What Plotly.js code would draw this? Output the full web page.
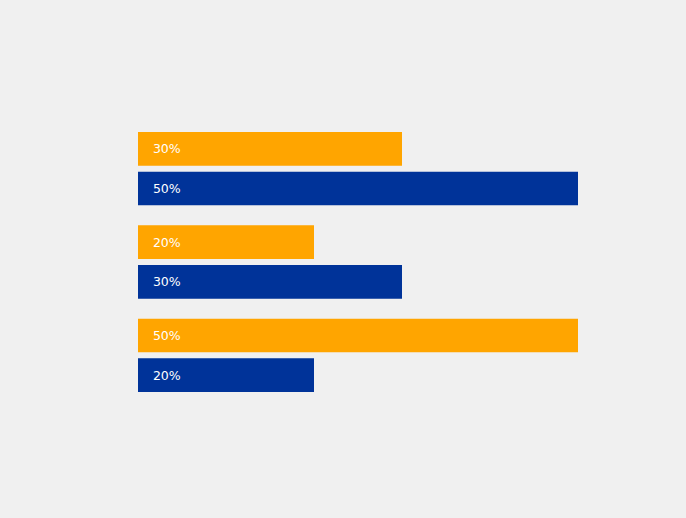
<!DOCTYPE html>
<html>
<head>
<meta charset="utf-8">
<script src="https://cdn.plot.ly/plotly-3.0.1.min.js"></script>
<style>
  html, body { margin: 0; padding: 0; background: #f0f0f0; }
  #chart { width: 686px; height: 518px; }
</style>
</head>
<body>
<div id="chart"></div>
<script>
const categories = ["Category 1", "Category 2", "Category 3"];
const seriesNames = ["Series 1", "Series 2"];
const orangeValues = [30, 20, 50];
const blueValues = [50, 30, 20];
const labelPrefix = "\u00a0\u00a0\u00a0";

function labels(vals) { return vals.map(v => labelPrefix + v + "%"); }

const common = {
  type: "bar",
  orientation: "h",
  y: categories,
  textposition: "inside",
  insidetextanchor: "start",
  textfont: { family: "DejaVu Sans, Verdana, sans-serif", size: 12.5, color: "#ffffff" },
  hoverinfo: "skip",
  cliponaxis: false
};

const data = [
  Object.assign({}, common, {
    name: seriesNames[0], x: orangeValues, text: labels(orangeValues),
    marker: { color: "#ffa500" }
  }),
  Object.assign({}, common, {
    name: seriesNames[1], x: blueValues, text: labels(blueValues),
    marker: { color: "#003399" }
  })
];

const layout = {
  width: 686, height: 518,
  paper_bgcolor: "#f0f0f0", plot_bgcolor: "#f0f0f0",
  margin: { l: 138, r: 108, t: 122, b: 116 },
  barmode: "group", bargap: 0.15, bargroupgap: 0.15,
  showlegend: false,
  xaxis: { range: [0, 50], visible: false, showgrid: false, zeroline: false, fixedrange: true },
  yaxis: { autorange: "reversed", visible: false, showgrid: false, zeroline: false, fixedrange: true },
  uniformtext: { mode: false }
};

Plotly.newPlot("chart", data, layout, { displayModeBar: false, staticPlot: true });
</script>
</body>
</html>
